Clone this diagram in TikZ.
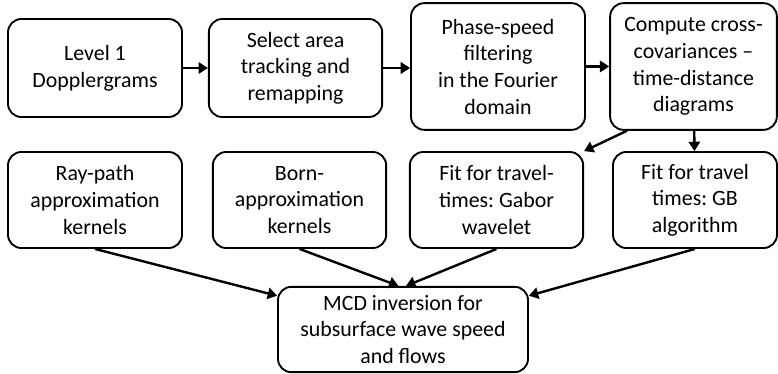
\documentclass[tikz,border=0pt]{standalone}
\usepackage{fontspec}
\setmainfont{Carlito}
\usetikzlibrary{arrows.meta}
\frenchspacing

\tikzset{box/.style={draw, line width=1.4pt, rounded corners=10pt, align=center, inner sep=2pt,
	font=\fontsize{16.4}{20}\selectfont}}

\begin{document}
\begin{tikzpicture}[x=0.75pt, y=-0.75pt, line width=1.8pt, arrows={-Triangle[length=7pt,width=8.5pt]}]
	\useasboundingbox (0,0) rectangle (778,374);
	\node[box, minimum width=130.5pt, minimum height=73.5pt] (L) at (95,68) {Level 1\\Dopplergrams};
	\node[box, minimum width=130pt, minimum height=73.5pt] (S) at (295.5,68) {Select area\\tracking and\\remapping};
	\node[box, minimum width=130.5pt, minimum height=95pt] (P) at (498,66.5) {Phase-speed\\filtering\\in the Fourier\\domain};
	\node[box, minimum width=125pt, minimum height=95pt] (C) at (693.5,66.5) {Compute cross-\\covariances --\\time-distance\\diagrams};
	\node[box, minimum width=130.5pt, minimum height=72pt] (R) at (95,200) {Ray-path\\approximation\\kernels};
	\node[box, minimum width=130pt, minimum height=72pt] (B) at (299.5,200) {Born-\\approximation\\kernels};
	\node[box, minimum width=130pt, minimum height=72pt] (G) at (496.5,200) {Fit for travel-\\times: Gabor\\wavelet};
	\node[box, minimum width=123pt, minimum height=72pt] (H) at (695,200) {Fit for travel\\times: GB\\algorithm};
	\node[box, minimum width=187.5pt, minimum height=64pt] (M) at (403,329.5) {MCD inversion for\\subsurface wave speed\\and flows};
	\draw (L) to (S);
	\draw (S.east) to (S.east -| P.west);
	\draw (P.east) to (P.east -| C.west);
	\draw (C.224) to (G.north east);
	\draw (C) to (H);
	\draw (R.south) to (M.165);
	\draw (B.south) to (M.96);
	\draw (G.south) to (M.86);
	\draw (H.south) to (M.15);
\end{tikzpicture}
\end{document}
